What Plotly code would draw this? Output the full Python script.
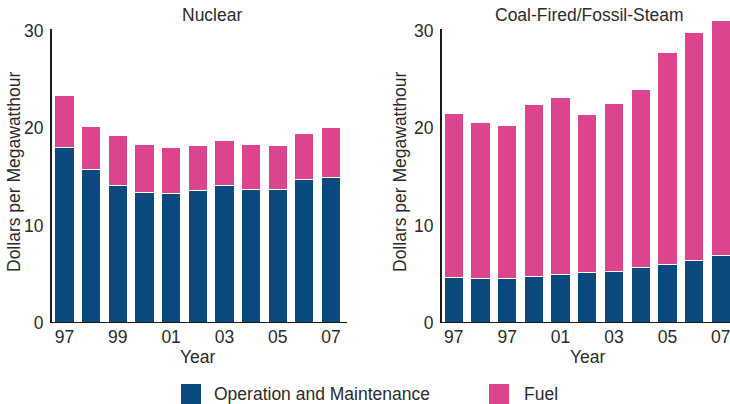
import plotly.graph_objects as go
from plotly.subplots import make_subplots

years = [1997, 1998, 1999, 2000, 2001, 2002, 2003, 2004, 2005, 2006, 2007]
tick_years = [1997, 1999, 2001, 2003, 2005, 2007]
nuclear_ticktext = ["97", "99", "01", "03", "05", "07"]
coal_ticktext = ["97", "97", "01", "03", "05", "07"]

nuclear_om = [18.0, 15.8, 14.1, 13.4, 13.3, 13.6, 14.1, 13.7, 13.7, 14.7, 15.0]
nuclear_fuel = [5.4, 4.4, 5.2, 4.9, 4.7, 4.6, 4.6, 4.6, 4.5, 4.8, 5.1]

coal_om = [4.7, 4.6, 4.6, 4.8, 5.0, 5.2, 5.3, 5.7, 6.0, 6.4, 6.9]
coal_fuel = [16.8, 16.0, 15.7, 17.7, 18.2, 16.2, 17.3, 18.3, 21.8, 23.4, 24.2]

series_names = ["Operation and Maintenance", "Fuel"]
BLUE = "#0b4a7e"
PINK = "#dc458d"
TEXT = "#2b2b2b"
FONT = "Liberation Sans"
W, H = 730, 404

fig = make_subplots(rows=1, cols=2)

for col, (om, fuel) in enumerate([(nuclear_om, nuclear_fuel), (coal_om, coal_fuel)], start=1):
    fig.add_trace(go.Bar(x=years, y=om, name=series_names[0], marker=dict(color=BLUE, line=dict(color="white", width=1)),
                         width=0.72, showlegend=False), row=1, col=col)
    fig.add_trace(go.Bar(x=years, y=fuel, name=series_names[1], marker=dict(color=PINK, line=dict(color="white", width=1)),
                         width=0.72, showlegend=False), row=1, col=col)

def px(x):
    return x / W

def py(y):
    return (H - y) / H

y_bottom_px, y_top_px = 323, 17
unit_px = (323 - 31) / 30.0
y_top_val = (y_bottom_px - y_top_px) / unit_px

axis_common = dict(showgrid=False, zeroline=False, showline=False, automargin=False,
                   tickfont=dict(family=FONT, size=17.5, color=TEXT))

fig.update_layout(
    barmode="stack",
    width=W, height=H,
    margin=dict(l=0, r=0, t=0, b=0),
    paper_bgcolor="white", plot_bgcolor="white",
    font=dict(family=FONT, color=TEXT),
    xaxis=dict(domain=[px(51), px(347)], range=[1996.493, 2007.6], tickvals=tick_years, ticktext=nuclear_ticktext,
               ticks="", ticklabelstandoff=1, ticklabeloverflow="allow", **axis_common),
    xaxis2=dict(domain=[px(441), 1.0], range=[1996.52, 2007.345], tickvals=tick_years, ticktext=coal_ticktext,
                ticks="", ticklabelstandoff=1, ticklabeloverflow="allow", **axis_common),
    yaxis=dict(domain=[py(y_bottom_px), py(y_top_px)], range=[0, y_top_val], tickvals=[0, 10, 20, 30],
               ticks="outside", ticklen=3, tickcolor="rgba(0,0,0,0)", **axis_common),
    yaxis2=dict(domain=[py(y_bottom_px), py(y_top_px)], range=[0, y_top_val], tickvals=[0, 10, 20, 30],
                ticks="outside", ticklen=3, tickcolor="rgba(0,0,0,0)", **axis_common),
)

shapes = []
for xr, yr in [("x", "y"), ("x2", "y2")]:
    shapes.append(dict(type="line", xref=f"{xr} domain", yref=yr, x0=0, x1=0, y0=0, y1=30.2,
                       line=dict(color="#1a1a1a", width=2)))
    shapes.append(dict(type="line", xref=f"{xr} domain", yref=yr, x0=0, x1=1, y0=0, y1=0,
                       line=dict(color="#1a1a1a", width=2)))
shapes.append(dict(type="rect", xref="paper", yref="paper", x0=px(181), x1=px(201), y0=py(404), y1=py(384),
                   fillcolor=BLUE, line=dict(width=0)))
shapes.append(dict(type="rect", xref="paper", yref="paper", x0=px(489), x1=px(509), y0=py(404), y1=py(384),
                   fillcolor=PINK, line=dict(width=0)))
fig.update_layout(shapes=shapes)

ann = []
def text(t, x, y, size=17.5, angle=0, xanchor="center"):
    ann.append(dict(text=t, x=px(x), y=py(y), xref="paper", yref="paper", showarrow=False,
                    xanchor=xanchor, yanchor="middle", textangle=angle,
                    font=dict(family=FONT, size=size, color=TEXT)))

text("Nuclear", 212, 15)
text("Coal-Fired/Fossil-Steam", 589, 15)
text("Year", 198, 357)
text("Year", 588, 357)
text("Dollars per Megawatthour", 14, 172, angle=-90)
text("Dollars per Megawatthour", 400, 172, angle=-90)
text(series_names[0], 212, 394, xanchor="left")
text(series_names[1], 522, 394, xanchor="left")
fig.update_layout(annotations=ann)

fig.write_html("out.html", config={"displayModeBar": False},
               post_script="document.body.style.margin='0';document.body.style.overflow='hidden';")
